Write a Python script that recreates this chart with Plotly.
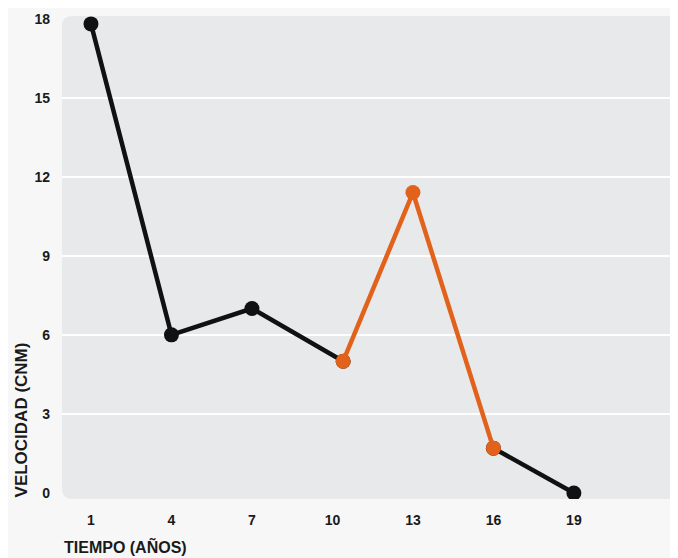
import plotly.graph_objects as go

# Data
tiempo = [1, 4, 7, 10.4, 13, 16, 19]
velocidad = [17.8, 6, 7, 5, 11.4, 1.7, 0]
highlight_start = 3  # index where orange segment begins
highlight_end = 5    # index where orange segment ends
x_ticks = [1, 4, 7, 10, 13, 16, 19]
y_ticks = [0, 3, 6, 9, 12, 15, 18]
grid_vals = [3, 6, 9, 12, 15]

BLACK = "#111111"
ORANGE = "#E2621B"

fig = go.Figure()
fig.add_trace(go.Scatter(
    x=tiempo[:highlight_start + 1], y=velocidad[:highlight_start + 1],
    mode="lines+markers", line=dict(color=BLACK, width=4.5),
    marker=dict(color=BLACK, size=15), showlegend=False, hoverinfo="x+y"))
fig.add_trace(go.Scatter(
    x=tiempo[highlight_end:], y=velocidad[highlight_end:],
    mode="lines+markers", line=dict(color=BLACK, width=4.5),
    marker=dict(color=BLACK, size=15), showlegend=False, hoverinfo="x+y"))
fig.add_trace(go.Scatter(
    x=tiempo[highlight_start:highlight_end + 1], y=velocidad[highlight_start:highlight_end + 1],
    mode="lines+markers", line=dict(color=ORANGE, width=4.5),
    marker=dict(color=ORANGE, size=15), showlegend=False, hoverinfo="x+y"))

# rounded plot background
x0, x1, y0, y1 = 0, 1.03, 0, 1
rx = 0.016
ry = 0.021
path = (f"M {x0+rx},{y0} L {x1-rx},{y0} Q {x1},{y0} {x1},{y0+ry} "
        f"L {x1},{y1-ry} Q {x1},{y1} {x1-rx},{y1} L {x0+rx},{y1} "
        f"Q {x0},{y1} {x0},{y1-ry} L {x0},{y0+ry} Q {x0},{y0} {x0+rx},{y0} Z")
fig.add_shape(type="path", path=path, xref="paper", yref="paper",
              fillcolor="#e8e9eb", line=dict(width=0), layer="below")

FONT = "Liberation Sans, Arial, sans-serif"
fig.update_layout(
    width=670, height=550,
    margin=dict(l=54, r=0, t=8, b=59),
    paper_bgcolor="#f7f7f7",
    plot_bgcolor="rgba(0,0,0,0)",
    font=dict(family=FONT, color="#1a1a1a"),
    xaxis=dict(range=[-0.08, 22.88], tickvals=x_ticks, ticktext=[str(v) for v in x_ticks],
               showgrid=False, zeroline=False, showline=False, ticks="",
               tickfont=dict(size=14, family=FONT, weight="bold"),
               ticklabelstandoff=11),
    yaxis=dict(range=[-0.23, 18.1], tickvals=y_ticks, ticktext=[str(v) for v in y_ticks],
               showgrid=False, zeroline=False, showline=False, ticks="",
               minor=dict(tickvals=grid_vals, showgrid=True, gridcolor="#ffffff",
                          gridwidth=2, ticks=""),
               tickfont=dict(size=14, family=FONT, weight="bold"),
               ticklabelstandoff=11),
    annotations=[
        dict(text="<b>VELOCIDAD (CNM)</b>", xref="paper", yref="paper", x=-0.065, y=0.0,
             xanchor="center", yanchor="bottom", textangle=-90, showarrow=False,
             font=dict(size=17, family=FONT, color="#1a1a1a")),
        dict(text="<b>TIEMPO (AÑOS)</b>", xref="paper", yref="paper", x=0.0, y=-0.099,
             xanchor="left", yanchor="middle", showarrow=False,
             font=dict(size=16, family=FONT, color="#1a1a1a")),
    ],
)
fig.write_html("out.html")
